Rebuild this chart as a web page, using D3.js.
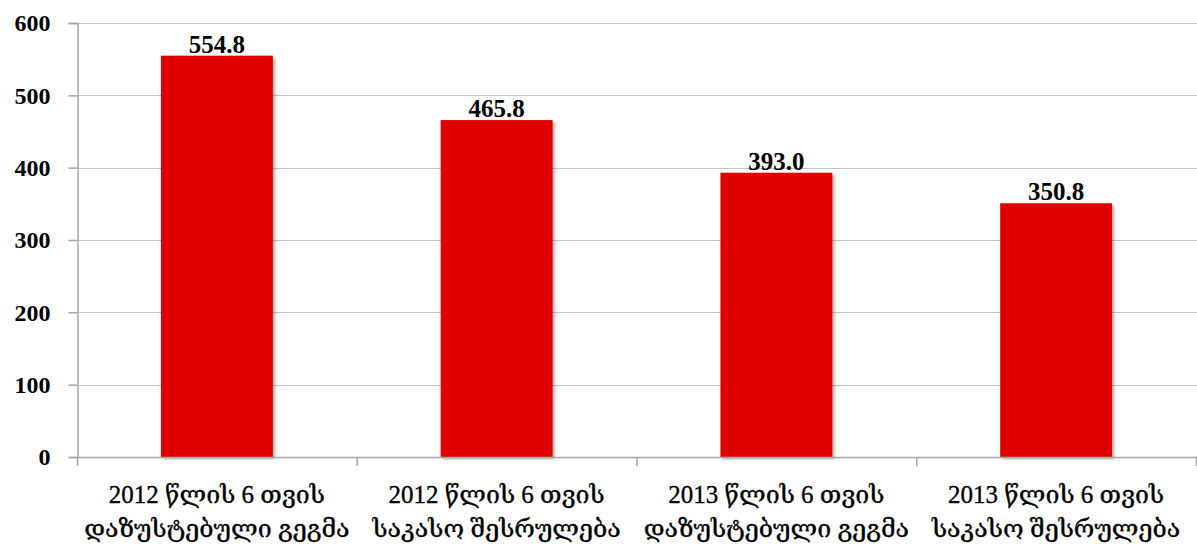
<!DOCTYPE html>
<html>
<head>
<meta charset="utf-8">
<script src="https://cdn.jsdelivr.net/npm/d3@7"></script>
<style>
  html, body { margin: 0; padding: 0; background: #fff; }
  svg { display: block; }
  .num { font-family: "Liberation Serif", "DejaVu Serif", serif; font-weight: bold; fill: #000; }
  .cat { font-family: "Liberation Serif", "DejaVu Serif", serif; fill: #000; stroke: #000; stroke-width: 0.35px; }
</style>
</head>
<body>
<svg id="chart" width="1197" height="546"></svg>
<script>
// Budget figures, million GEL
const categories = [
  ["2012 წლის 6 თვის", "დაზუსტებული გეგმა"],
  ["2012 წლის 6 თვის", "საკასო შესრულება"],
  ["2013 წლის 6 თვის", "დაზუსტებული გეგმა"],
  ["2013 წლის 6 თვის", "საკასო შესრულება"]
];
const values = [554.8, 465.8, 393.0, 350.8];
const yTicks = [0, 100, 200, 300, 400, 500, 600];

const svg = d3.select("#chart");
const margin = { left: 77, right: 0, top: 23, bottom: 89 };
const W = 1197, H = 546;

const x = d3.scaleBand()
  .domain(d3.range(categories.length))
  .range([margin.left, W - 1])
  .paddingInner(0.6)
  .paddingOuter(0.3);

const y = d3.scaleLinear().domain([0, 600]).range([H - margin.bottom, margin.top]);

const defs = svg.append("defs");
const f = defs.append("filter").attr("id", "shadow")
  .attr("x", "-10%").attr("y", "-10%").attr("width", "130%").attr("height", "130%");
f.append("feDropShadow").attr("dx", 2).attr("dy", 2).attr("stdDeviation", 1.5)
  .attr("flood-color", "#000").attr("flood-opacity", 0.35);

// horizontal gridlines
svg.append("g").selectAll("line").data(yTicks.filter(d => d > 0)).join("line")
  .attr("x1", margin.left).attr("x2", W)
  .attr("y1", d => Math.round(y(d)) + 0.5).attr("y2", d => Math.round(y(d)) + 0.5)
  .attr("stroke", "#c4c4c4").attr("stroke-width", 1.2);

// y axis
const yAxis = svg.append("g")
  .attr("transform", `translate(${margin.left + 0.5},0)`)
  .call(d3.axisLeft(y).tickValues(yTicks).tickSize(9).tickPadding(18).tickFormat(d3.format("d")));
yAxis.select(".domain").attr("stroke", "#a6a6a6").attr("stroke-width", 1.5);
yAxis.selectAll(".tick line").attr("stroke", "#a6a6a6").attr("stroke-width", 1.5);
yAxis.selectAll(".tick text").attr("class", "num").style("font-size", "24px");

// bars
svg.append("g").selectAll("rect").data(values).join("rect")
  .attr("x", (d, i) => x(i))
  .attr("width", x.bandwidth())
  .attr("y", d => y(d))
  .attr("height", d => y(0) - y(d))
  .attr("fill", "#e00000")
  .attr("filter", "url(#shadow)");

// x axis with category boundary ticks
const x0 = margin.left;
const bounds = d3.range(categories.length + 1).map(i => x0 + i * (W - 1 - x0) / categories.length);
const xg = svg.append("g");
xg.append("line")
  .attr("x1", margin.left).attr("x2", W)
  .attr("y1", Math.round(y(0)) + 0.5).attr("y2", Math.round(y(0)) + 0.5)
  .attr("stroke", "#a6a6a6").attr("stroke-width", 1.5);
xg.selectAll("line.tk").data(bounds).join("line").attr("class", "tk")
  .attr("x1", d => d + 0.5).attr("x2", d => d + 0.5)
  .attr("y1", y(0)).attr("y2", y(0) + 9)
  .attr("stroke", "#a6a6a6").attr("stroke-width", 1.5);

// category labels
const catG = svg.append("g").selectAll("text").data(categories).join("text")
  .attr("class", "cat")
  .attr("text-anchor", "middle")
  .style("font-size", "25px")
  .attr("x", (d, i) => x(i) + x.bandwidth() / 2);
catG.selectAll("tspan").data(d => d).join("tspan")
  .attr("x", function () { return d3.select(this.parentNode).attr("x"); })
  .attr("y", (d, j) => 503 + j * 34)
  .text(d => d);

// value labels
svg.append("g").selectAll("text").data(values).join("text")
  .attr("class", "num")
  .attr("text-anchor", "middle")
  .style("font-size", "25px")
  .attr("x", (d, i) => x(i) + x.bandwidth() / 2)
  .attr("y", d => y(d) - 3)
  .text(d => d.toFixed(1));
</script>
</body>
</html>
